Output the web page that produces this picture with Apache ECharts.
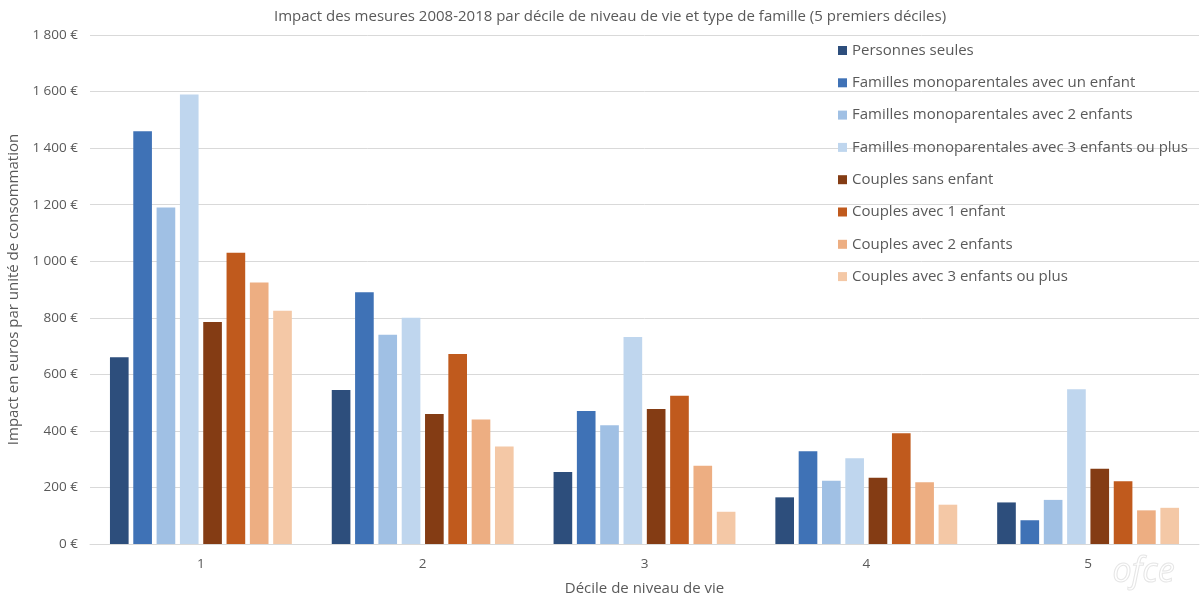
<!DOCTYPE html>
<html>
<head>
<meta charset="utf-8">
<script src="https://cdn.jsdelivr.net/npm/echarts@6/dist/echarts.min.js"></script>
<style>
  html, body { margin: 0; padding: 0; background: #ffffff; }
  #chart { width: 1200px; height: 599px; }
</style>
</head>
<body>
<div id="chart"></div>
<script>
// Déciles de niveau de vie (5 premiers)
const deciles = ['1', '2', '3', '4', '5'];

// Impact en euros par unité de consommation, par type de famille
const personnesSeules      = [660, 545, 255, 165, 147];
const monoUnEnfant         = [1460, 890, 470, 328, 84];
const monoDeuxEnfants      = [1190, 740, 420, 224, 156];
const monoTroisEnfantsPlus = [1590, 800, 732, 303, 547];
const couplesSansEnfant    = [785, 460, 477, 234, 266];
const couplesUnEnfant      = [1030, 672, 524, 392, 222];
const couplesDeuxEnfants   = [925, 440, 277, 218, 119];
const couplesTroisPlus     = [825, 345, 114, 139, 128];

const seriesNames = [
  'Personnes seules',
  'Familles monoparentales avec un enfant',
  'Familles monoparentales avec 2 enfants',
  'Familles monoparentales avec 3 enfants ou plus',
  'Couples sans enfant',
  'Couples avec 1 enfant',
  'Couples avec 2 enfants',
  'Couples avec 3 enfants ou plus'
];
const seriesValues = [
  personnesSeules, monoUnEnfant, monoDeuxEnfants, monoTroisEnfantsPlus,
  couplesSansEnfant, couplesUnEnfant, couplesDeuxEnfants, couplesTroisPlus
];
const seriesColors = [
  '#2d4e7c', '#3f72b6', '#a0c0e4', '#bfd6ee',
  '#843c14', '#c05a1d', '#edae82', '#f4c8a6'
];

const FONT = 'Open Sans';
const TEXT = '#595959';

const chart = echarts.init(document.getElementById('chart'));

chart.setOption({
  animation: false,
  backgroundColor: '#ffffff',
  textStyle: { fontFamily: FONT },
  title: {
    text: 'Impact des mesures 2008-2018 par décile de niveau de vie et type de famille (5 premiers déciles)',
    left: 605,
    textAlign: 'center',
    top: 4,
    textStyle: { fontFamily: FONT, fontSize: 15, fontWeight: 'normal', color: TEXT }
  },
  legend: {
    orient: 'vertical',
    left: 833,
    top: 38,
    itemWidth: 9,
    itemHeight: 9,
    itemGap: 17.3,
    icon: 'rect',
    textStyle: { fontFamily: FONT, fontSize: 15, lineHeight: 15, color: TEXT },
    data: seriesNames
  },
  grid: {
    left: 90, right: 1, top: 35, bottom: 55,
    containLabel: false,
    outerBoundsMode: 'none'
  },
  xAxis: {
    type: 'category',
    data: deciles,
    name: 'Décile de niveau de vie',
    nameLocation: 'middle',
    nameGap: 37,
    nameTextStyle: { fontFamily: FONT, fontSize: 15, color: TEXT },
    axisLine: { lineStyle: { color: '#d9d9d9', width: 1 } },
    axisTick: { show: false },
    axisLabel: { color: TEXT, fontSize: 13.5, fontFamily: FONT, margin: 13 }
  },
  yAxis: {
    type: 'value',
    min: 0,
    max: 1800,
    interval: 200,
    name: 'Impact en euros par unité de consommation',
    nameLocation: 'middle',
    nameGap: 66,
    nameTextStyle: { fontFamily: FONT, fontSize: 15, color: TEXT },
    axisLine: { show: false },
    axisTick: { show: false },
    splitLine: { lineStyle: { color: '#d9d9d9', width: 1 } },
    axisLabel: {
      color: TEXT, fontSize: 13.5, fontFamily: FONT, margin: 12,
      formatter: function (v) {
        return String(v).replace(/\B(?=(\d{3})+(?!\d))/g, ' ') + ' €';
      }
    }
  },
  graphic: [{
    type: 'text',
    left: 1112,
    top: 555,
    style: {
      text: 'ofce',
      fontFamily: FONT,
      fontSize: 34,
      fontStyle: 'italic',
      fill: 'rgba(0,0,0,0)',
      stroke: '#e6e6e6',
      lineWidth: 1
    }
  }],
  series: seriesNames.map(function (name, i) {
    return {
      name: name,
      type: 'bar',
      data: seriesValues[i],
      barGap: '25%',
      barCategoryGap: '18%',
      itemStyle: { color: seriesColors[i] }
    };
  })
});
</script>
</body>
</html>
